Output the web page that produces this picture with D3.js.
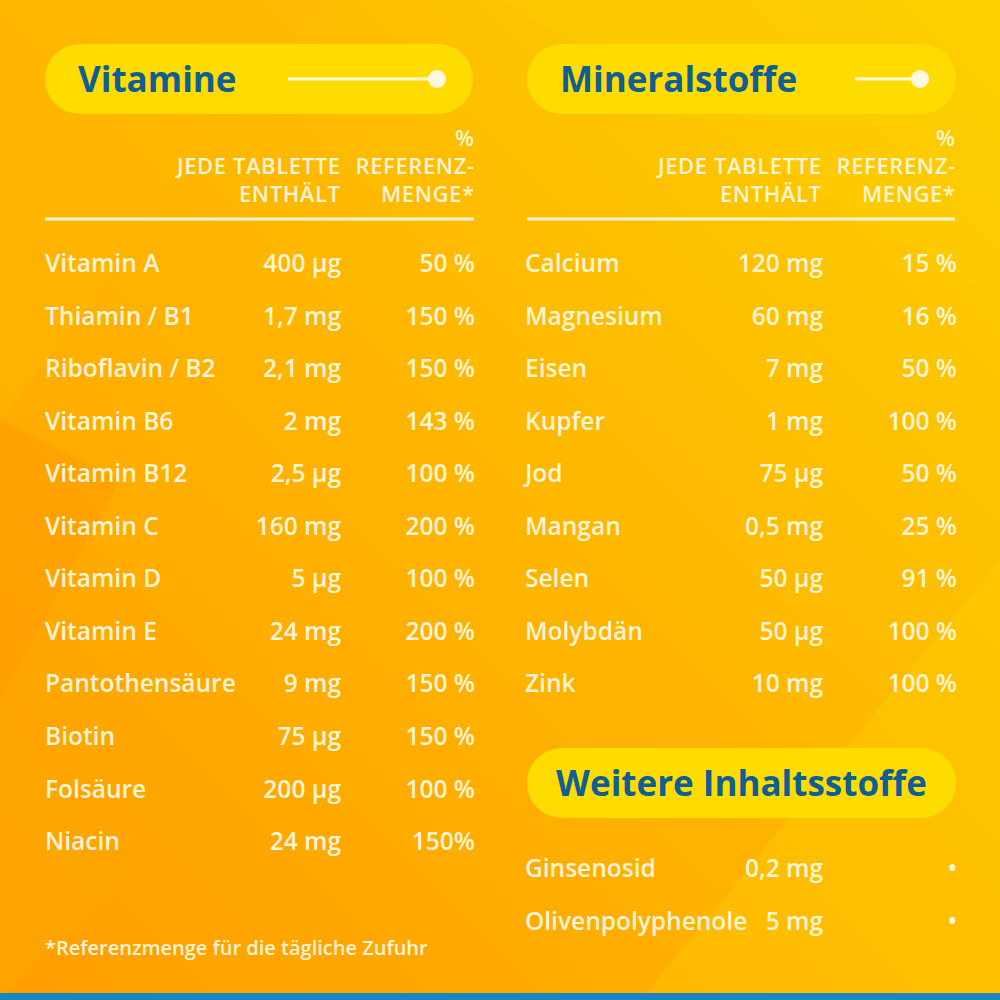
<!DOCTYPE html>
<html><head><meta charset="utf-8">
<script src="https://cdn.jsdelivr.net/npm/d3@7"></script>
<style>html,body{margin:0;padding:0;overflow:hidden;background:#fbb800}</style>
</head><body>
<svg id="c" width="1000" height="1000"></svg>
<script>
// ---- data ----
const vitaminNames = ["Vitamin A","Thiamin / B1","Riboflavin / B2","Vitamin B6","Vitamin B12","Vitamin C","Vitamin D","Vitamin E","Pantothensäure","Biotin","Folsäure","Niacin"];
const vitaminAmounts = ["400 µg","1,7 mg","2,1 mg","2 mg","2,5 µg","160 mg","5 µg","24 mg","9 mg","75 µg","200 µg","24 mg"];
const vitaminRefs = ["50 %","150 %","150 %","143 %","100 %","200 %","100 %","200 %","150 %","150 %","100 %","150%"];
const mineralNames = ["Calcium","Magnesium","Eisen","Kupfer","Jod","Mangan","Selen","Molybdän","Zink"];
const mineralAmounts = ["120 mg","60 mg","7 mg","1 mg","75 µg","0,5 mg","50 µg","50 µg","10 mg"];
const mineralRefs = ["15 %","16 %","50 %","100 %","50 %","25 %","91 %","100 %","100 %"];
const otherNames = ["Ginsenosid","Olivenpolyphenole"];
const otherAmounts = ["0,2 mg","5 mg"];
const otherRefs = ["•","•"];
const titles = ["Vitamine","Mineralstoffe","Weitere Inhaltsstoffe"];
const headerAmount = ["JEDE TABLETTE","ENTHÄLT"];
const headerRef = ["%","REFERENZ-","MENGE*"];
const footnote = "*Referenzmenge für die tägliche Zufuhr";

// ---- drawing ----
const svg = d3.select("#c");
const W = 1000, H = 1000;
const defs = svg.append("defs");
const g1 = defs.append("linearGradient").attr("id","bg").attr("x1","0").attr("y1","1").attr("x2","1").attr("y2","0");
g1.append("stop").attr("offset","0").attr("stop-color","#ff9d00");
g1.append("stop").attr("offset","0.45").attr("stop-color","#ffb300");
g1.append("stop").attr("offset","1").attr("stop-color","#fccf00");
svg.append("rect").attr("width",W).attr("height",H).attr("fill","url(#bg)");
// faint facets
const facets = [
  {pts:[[0,0],[330,0],[0,420]], c:"#ffb800", o:0.45},
  {pts:[[0,420],[120,480],[0,700]], c:"#ff9a00", o:0.5},
  {pts:[[0,700],[130,880],[0,1000]], c:"#ffa800", o:0.5},
  {pts:[[640,1000],[1000,560],[1000,1000]], c:"#ffd000", o:0.35},
  {pts:[[500,0],[1000,0],[1000,300]], c:"#ffd000", o:0.3}
];
svg.selectAll("polygon.f").data(facets).join("polygon").attr("class","f")
  .attr("points",d=>d.pts.map(p=>p.join(",")).join(" "))
  .attr("fill",d=>d.c).attr("opacity",d=>d.o);
svg.append("rect").attr("x",0).attr("y",993).attr("width",W).attr("height",7).attr("fill","#1a86c1");

const FONT = "'Open Sans', 'Noto Sans', sans-serif";
const TXT = "#fff4d6";
const BLUE = "#0f5e94";
const PILL = "#ffdc00";

function pill(x0,x1,y0,title,withLine,lineX0,lineX1,center){
  const g = svg.append("g");
  g.append("rect").attr("x",x0).attr("y",y0).attr("width",x1-x0).attr("height",70).attr("rx",35).attr("fill",PILL);
  g.append("text").attr("x",center?(x0+x1)/2:x0+33).attr("y",y0+48)
    .attr("text-anchor",center?"middle":"start")
    .attr("font-family",FONT).attr("font-weight",700).attr("font-size",35).attr("fill",BLUE).text(title);
  if(withLine){
    g.append("line").attr("x1",lineX0).attr("x2",lineX1).attr("y1",y0+35).attr("y2",y0+35).attr("stroke","#fff8e0").attr("stroke-width",3);
    g.append("circle").attr("cx",lineX1).attr("cy",y0+35).attr("r",9).attr("fill","#fff8e0");
  }
}

function headers(x0,xAmt,xRef){
  const g = svg.append("g").attr("font-family",FONT).attr("font-size",22).attr("font-weight",600)
    .attr("letter-spacing",0.6).attr("fill",TXT);
  const hy = d3.scalePoint().domain([0,1,2]).range([146,202]);
  g.selectAll("text.a").data(headerAmount).join("text").attr("class","a")
    .attr("x",xAmt+0.6).attr("y",(d,i)=>hy(i+1)).attr("text-anchor","end").text(d=>d);
  g.selectAll("text.r").data(headerRef).join("text").attr("class","r")
    .attr("x",xRef+0.6).attr("y",(d,i)=>hy(i)).attr("text-anchor","end").text(d=>d);
  svg.append("line").attr("x1",x0).attr("x2",xRef).attr("y1",219).attr("y2",219).attr("stroke","#fff6dc").attr("stroke-width",3);
}

function rows(names,amts,refs,x0,xAmt,xRef,yStart){
  const y = d3.scalePoint().domain(names).range([yStart, yStart + 52.55*(names.length-1)]);
  const g = svg.append("g").attr("font-family",FONT).attr("font-size",24.5).attr("font-weight",600).attr("fill",TXT);
  const r = g.selectAll("g").data(names).join("g").attr("transform",d=>`translate(0,${y(d)+9})`);
  r.append("text").attr("x",x0).text(d=>d);
  r.append("text").attr("x",xAmt).attr("text-anchor","end").text((d,i)=>amts[i]);
  r.append("text").attr("x",xRef).attr("text-anchor","end").text((d,i)=>refs[i]);
}

pill(45,473,44,titles[0],true,288,437,false);
pill(527,956,44,titles[1],true,855,920,false);
headers(45,340,474);
headers(527,821,955);
rows(vitaminNames,vitaminAmounts,vitaminRefs,45,341,475,263);
rows(mineralNames,mineralAmounts,mineralRefs,525,823,957,263);
pill(527,956,748,titles[2],false,0,0,true);
rows(otherNames,otherAmounts,otherRefs,525,823,957,868);

svg.append("text").attr("x",45).attr("y",955).attr("font-family",FONT).attr("font-size",20).attr("font-weight",600)
  .attr("fill",TXT).text(footnote);
</script>
</body></html>
